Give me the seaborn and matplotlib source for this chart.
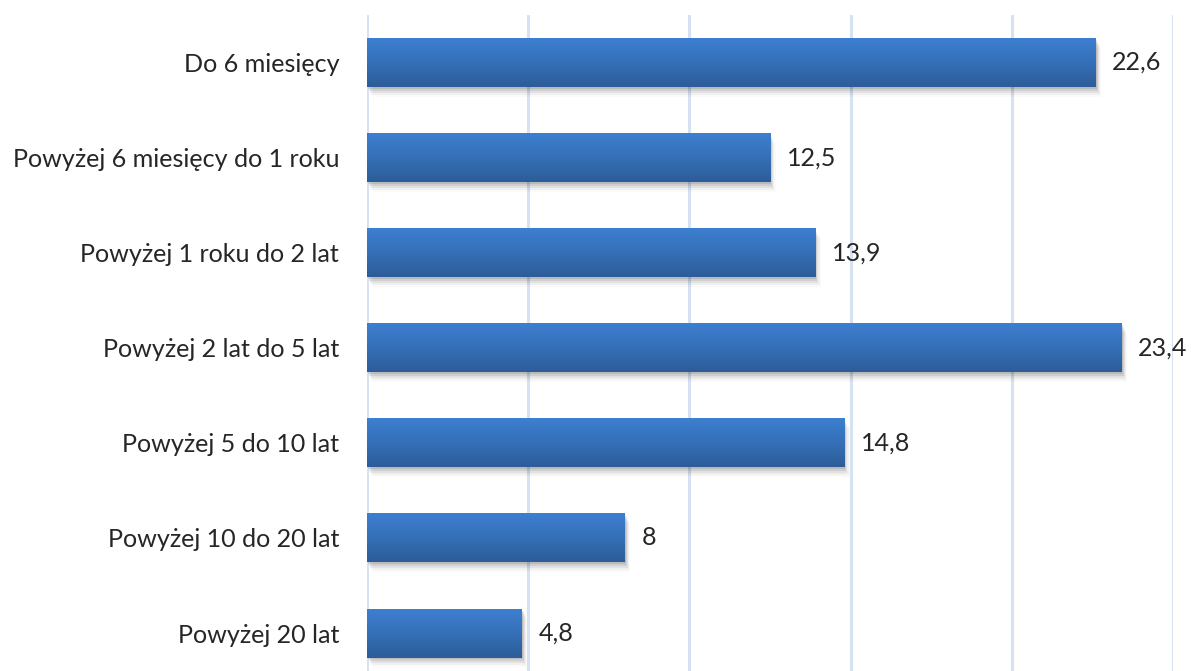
import numpy as np
import pandas as pd
import matplotlib
matplotlib.use("Agg")
import matplotlib.pyplot as plt
import matplotlib.patches as mpatches
import matplotlib.transforms as mtransforms
from matplotlib.colors import LinearSegmentedColormap
import seaborn as sns

categories = [
    "Do 6 miesięcy",
    "Powyżej 6 miesięcy do 1 roku",
    "Powyżej 1 roku do 2 lat",
    "Powyżej 2 lat do 5 lat",
    "Powyżej 5 do 10 lat",
    "Powyżej 10 do 20 lat",
    "Powyżej 20 lat",
]
values = [22.6, 12.5, 13.9, 23.4, 14.8, 8, 4.8]
x_ticks = [0, 5, 10, 15, 20, 25]

df = pd.DataFrame({"kategoria": categories, "udział": values})

sns.set_theme(style="white")
plt.rcParams["font.family"] = ["Lato", "DejaVu Sans"]

fig = plt.figure(figsize=(11.91, 6.71), dpi=100)
ax = fig.add_axes([0.3081, -0.0143, 0.9849 - 0.3081, 0.9776 + 0.0143])

sns.barplot(data=df, x="udział", y="kategoria", orient="h", width=0.515,
            color="#3a75c0", saturation=1, linewidth=0, edgecolor="none",
            ax=ax, zorder=3)

ax.set_xlim(0, 25)
ax.set_ylim(len(categories) - 0.5, -0.5)
ax.set_xticks(x_ticks)
ax.xaxis.grid(True, color="#d6e1f1", linewidth=2.2, zorder=0)
ax.yaxis.grid(False)
ax.set_axisbelow(True)
for s in ax.spines.values():
    s.set_visible(False)
ax.set_xlabel("")
ax.set_ylabel("")
ax.tick_params(axis="x", labelbottom=False, length=0)
ax.tick_params(axis="y", length=0, pad=20, labelsize=18.1, labelcolor="#262626")

# vertical gradient fill and soft shadow for every bar
grad_cmap = LinearSegmentedColormap.from_list("bar", ["#3d7fd0", "#3570b8", "#2d5c98"])
grad = np.linspace(0, 1, 256).reshape(-1, 1)
for patch in list(ax.patches):
    x0, y0 = patch.get_x(), patch.get_y()
    w, h = patch.get_width(), patch.get_height()
    for i, a in enumerate([0.10, 0.08, 0.06, 0.04, 0.02]):
        off = mtransforms.offset_copy(ax.transData, fig=fig,
                                      x=(i + 1) * 0.8, y=-(i + 1) * 1.4, units="points")
        sh = mpatches.Rectangle((x0, y0), w, h, facecolor="black", alpha=a,
                                edgecolor="none", transform=off, zorder=2)
        ax.add_patch(sh)
    im = ax.imshow(grad, cmap=grad_cmap, aspect="auto",
                   extent=(x0, x0 + w, y0 + h, y0), zorder=3.5, interpolation="bilinear")
    im.set_clip_path(patch)

ax.set_xlim(0, 25)
ax.set_ylim(len(categories) - 0.5, -0.5)

for i, v in enumerate(values):
    txt = f"{v:g}".replace(".", ",")
    ax.annotate(txt, (v, i), xytext=(12, 0), textcoords="offset points",
                va="center", ha="left", fontsize=18.1, color="#262626", zorder=5)

fig.savefig("out.png", dpi=100, facecolor="white")
